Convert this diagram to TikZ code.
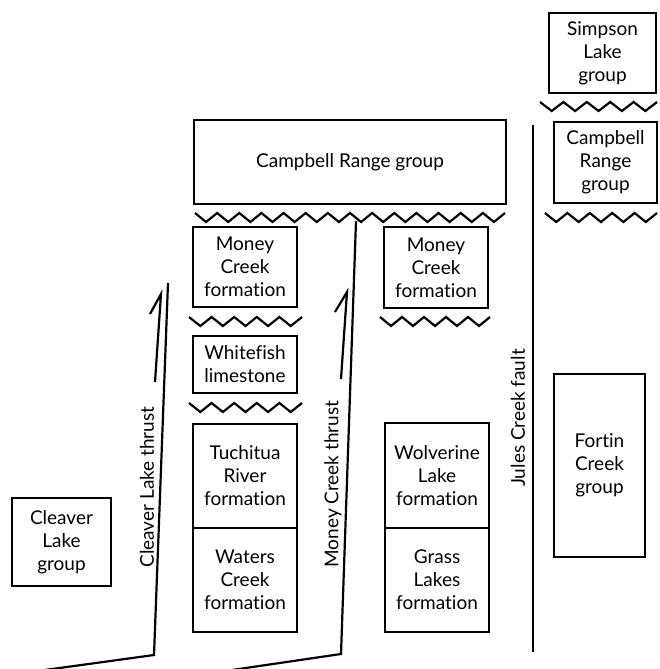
\documentclass[tikz,border=0pt]{standalone}
\usepackage{fontspec}
\setmainfont[Ligatures = NoCommon]{Lato}
\usetikzlibrary{positioning}
\tikzstyle{chart} = [x = 1pt, y = -1pt]
\tikzstyle{unitStyle} = [draw, line width = 2.4pt, align = center, inner sep = 0pt, font = \fontsize{19}{23}\selectfont]
\tikzstyle{faultLine} = [line width = 2.2pt, line join = miter]
\tikzstyle{faultText} = [rotate = 90, inner sep = 0pt, font = \fontsize{19}{23}\selectfont]
\tikzstyle{zigzagLine} = [line width = 2.2pt, line join = miter]
\newcommand{\toothWidth}{22.5}
\newcommand{\toothDepth}{9}
\newcommand{\unitBox}[6]{\node [unitStyle, minimum width = #4pt, minimum height = #5pt] (#1) at (#2, #3) {#6};}
\newcommand{\unconformity}[3]{
  \pgfmathtruncatemacro{\teeth}{round((#2 - #1) / \toothWidth)}
  \pgfmathsetmacro{\halfTooth}{(#2 - #1) / \teeth / 2}
  \draw [zigzagLine] (#1, #3) \foreach \tooth in {1,...,\teeth} { -- ++(\halfTooth, \toothDepth) -- ++(\halfTooth, -\toothDepth) };
}
\begin{document}
\begin{tikzpicture}[chart]
  \useasboundingbox (0, 0) rectangle (660, 669);

  % east of the fault
  \unitBox{simpson}{602.5}{53}{107}{80}{Simpson\\Lake\\group}
  \unconformity{540}{657}{102}
  \unitBox{campbellEast}{605.5}{162.5}{103}{81}{Campbell\\Range\\group}
  \unconformity{545}{657}{213}
  \unitBox{fortin}{599.5}{465.5}{91}{183}{Fortin\\Creek\\group}

  % west of the fault
  \unitBox{campbellWest}{350}{162}{312}{84}{Campbell Range group}
  \unconformity{195}{505}{213}
  \unitBox{moneyWest}{245}{267}{104}{80}{Money\\Creek\\formation}
  \unconformity{189}{302}{317}
  \unitBox{whitefish}{245}{364.5}{104}{57}{Whitefish\\limestone}
  \unconformity{189}{302}{403}
  \unitBox{tuchitua}{245}{476}{104}{104}{Tuchitua\\River\\formation}
  \unitBox{waters}{245}{580}{104}{104}{Waters\\Creek\\formation}
  \unitBox{moneyEast}{436}{267.5}{104}{81}{Money\\Creek\\formation}
  \unconformity{380}{490}{317}
  \unitBox{wolverine}{437}{475.5}{104}{105}{Wolverine\\Lake\\formation}
  \unitBox{grass}{437}{580}{104}{104}{Grass\\Lakes\\formation}
  \unitBox{cleaver}{61.5}{542}{99}{88}{Cleaver\\Lake\\group}

  % faults and thrusts
  \coordinate (julesTop) at (533, 125);
  \coordinate (julesBottom) at (533, 652);
  \draw [faultLine] (julesTop) -- (julesBottom);
  \node [faultText] (julesLabel) at (518, 418) {Jules Creek fault};

  \coordinate (cleaverTop) at (168, 283);
  \coordinate (cleaverBend) at (154, 655);
  \coordinate (cleaverEnd) at (45, 670);
  \draw [faultLine] (cleaverTop) -- (cleaverBend) -- (cleaverEnd);
  \coordinate (cleaverTail) at (155, 382);
  \coordinate (cleaverTip) at (161, 294);
  \coordinate (cleaverBarb) at (150, 314);
  \draw [faultLine] (cleaverTail) -- (cleaverTip) -- (cleaverBarb);
  \node [faultText] (cleaverLabel) at (147, 487) {Cleaver Lake thrust};

  \coordinate (moneyTop) at (356, 221);
  \coordinate (moneyBend) at (341, 654);
  \coordinate (moneyEnd) at (232, 670);
  \draw [faultLine] (moneyTop) -- (moneyBend) -- (moneyEnd);
  \coordinate (moneyTail) at (341, 379);
  \coordinate (moneyTip) at (347, 292);
  \coordinate (moneyBarb) at (335, 312);
  \draw [faultLine] (moneyTail) -- (moneyTip) -- (moneyBarb);
  \node [faultText] (moneyLabel) at (333, 484) {Money Creek thrust};
\end{tikzpicture}
\end{document}
